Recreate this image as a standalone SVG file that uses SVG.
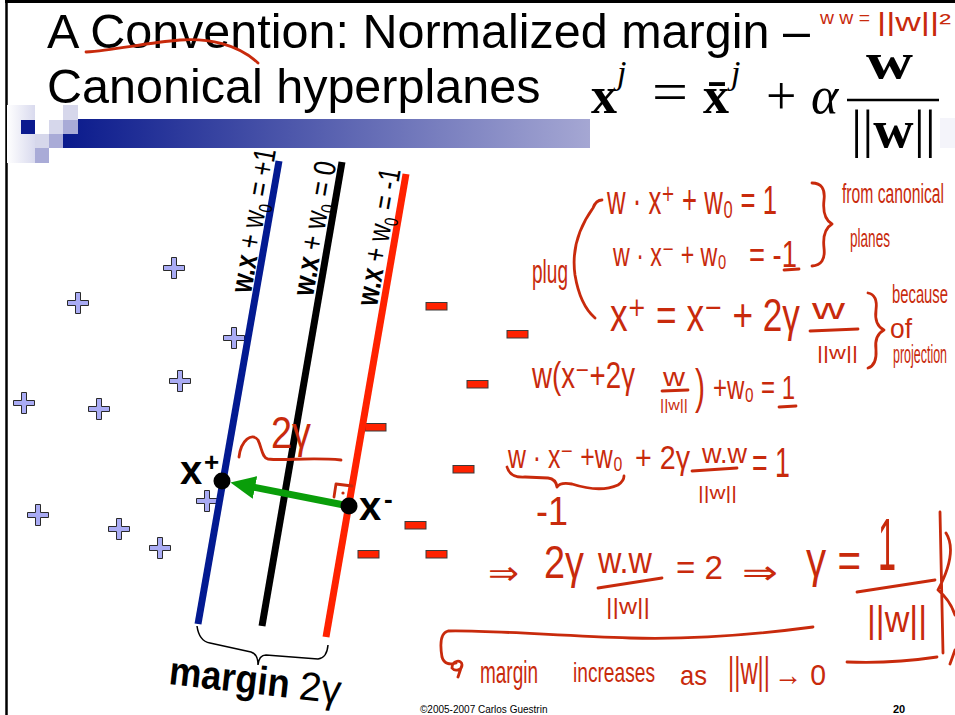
<svg xmlns="http://www.w3.org/2000/svg" width="955" height="715" viewBox="0 0 955 715">
<defs>
<style>
.t{font-family:"Liberation Sans",Arial,sans-serif;fill:#000}
.hw{font-family:"Liberation Sans","DejaVu Sans",Arial,sans-serif;fill:#c82a0c}
.hs{fill:none;stroke:#c82a0c;stroke-width:2.8;stroke-linecap:round;stroke-linejoin:round}
.mf{font-family:"Liberation Serif","Times New Roman",serif;fill:#000}
.lbl{font-family:"Liberation Sans",Arial,sans-serif;font-size:31px;fill:#000}
.plus{fill:#a9abf4;stroke:#2a2a2a;stroke-width:1}
.minus{fill:#ff2200;stroke:#3a3a3a;stroke-width:1}
</style>
<linearGradient id="bar" x1="0" x2="1" y1="0" y2="0"><stop offset="0" stop-color="#0a1a8c"/><stop offset="1" stop-color="#a5a7d3"/></linearGradient>
<linearGradient id="fade" x1="0" x2="1" y1="0" y2="0"><stop offset="0" stop-color="#ffffff"/><stop offset="1" stop-color="#d9daee"/></linearGradient>
<path id="pl" d="M-2.5,-10.5H2.5V-2.5H10.5V2.5H2.5V10.5H-2.5V2.5H-10.5V-2.5H-2.5Z"/>
<marker id="ah" markerUnits="userSpaceOnUse" markerWidth="26" markerHeight="24" refX="2" refY="11.5" orient="auto"><path d="M0,0L25,11.5L0,23Z" fill="#0a9e0a"/></marker>
</defs>
<rect width="955" height="715" fill="#fff"/>
<g id="frame" stroke="#000" fill="none">
<line x1="5" y1="1.5" x2="955" y2="1.5" stroke-width="3"/>
<line x1="6.5" y1="0" x2="6.5" y2="715" stroke-width="2.5"/>
</g>
<g id="title">
<text class="t" x="47" y="48" font-size="48.5">A Convention: Normalized margin –</text>
<text class="t" x="47" y="103" font-size="48.5">Canonical hyperplanes</text>
<path class="hs" d="M86,52 C115,50 145,43 180,40 C208,38 238,44 258,63"/>
</g>
<g id="decor">
<rect x="7" y="105" width="28" height="58" fill="url(#fade)"/>
<rect x="63" y="119" width="527" height="29" fill="url(#bar)"/>
<rect x="21" y="120" width="14" height="14" fill="#0b1a8f"/>
<rect x="35" y="134" width="14" height="14" fill="#d6d7eb"/>
<rect x="35" y="148" width="14" height="15" fill="#a9abd7"/>
<rect x="49" y="120" width="14" height="14" fill="#d6d7eb"/>
<rect x="49" y="134" width="14" height="14" fill="#a9abd7"/>
<rect x="63" y="105" width="15" height="15" fill="#d6d7eb"/>
<rect x="63" y="120" width="15" height="14" fill="#a9abd7"/>
<rect x="940" y="118" width="15" height="30" fill="#f4f4fa"/>
</g>
<g id="formula" class="mf">
<text x="591" y="113" font-size="52" font-weight="bold">x</text>
<text x="617" y="84" font-size="34" font-style="italic">j</text>
<text x="652" y="111" font-size="56" textLength="36" lengthAdjust="spacingAndGlyphs">=</text>
<text x="703" y="113" font-size="52" font-weight="bold">x̄</text>
<text x="731" y="84" font-size="34" font-style="italic">j</text>
<text x="766" y="114" font-size="54">+</text>
<text x="811" y="113" font-size="52" font-style="italic">α</text>
<text x="866" y="78" font-size="50" font-weight="bold" textLength="47" lengthAdjust="spacingAndGlyphs">w</text>
<line x1="847" y1="100" x2="939" y2="100" stroke="#000" stroke-width="2.4"/>
<text x="851" y="147" font-size="52" textLength="85" lengthAdjust="spacingAndGlyphs">||<tspan font-weight="bold">w</tspan>||</text>
</g>
<g id="positives">
<use href="#pl" class="plus" x="174" y="268"/>
<use href="#pl" class="plus" x="78" y="303"/>
<use href="#pl" class="plus" x="234" y="338"/>
<use href="#pl" class="plus" x="180" y="381"/>
<use href="#pl" class="plus" x="24" y="403"/>
<use href="#pl" class="plus" x="99" y="409"/>
<use href="#pl" class="plus" x="207" y="501"/>
<use href="#pl" class="plus" x="38" y="515"/>
<use href="#pl" class="plus" x="119" y="529"/>
<use href="#pl" class="plus" x="160" y="548"/>
</g>
<g id="negatives">
<rect class="minus" x="426" y="302.5" width="21" height="7.5"/>
<rect class="minus" x="507" y="330.5" width="21" height="7.5"/>
<rect class="minus" x="467" y="380.5" width="21" height="7.5"/>
<rect class="minus" x="365" y="423.5" width="21" height="7.5"/>
<rect class="minus" x="453" y="465.5" width="21" height="7.5"/>
<rect class="minus" x="405" y="521.5" width="21" height="7.5"/>
<rect class="minus" x="358" y="550.5" width="21" height="7.5"/>
<rect class="minus" x="426" y="550.5" width="21" height="7.5"/>
</g>
<g id="plane-pos">
<line x1="279" y1="161" x2="198" y2="624" stroke="#031a91" stroke-width="7"/>
<text class="lbl" transform="translate(251,294) rotate(-80.1)" textLength="146" lengthAdjust="spacingAndGlyphs"><tspan font-weight="bold">w.x</tspan> + w<tspan dy="6" font-size="19">0</tspan><tspan dy="-6"> = +1</tspan></text>
</g>
<g id="plane-zero">
<line x1="342" y1="162" x2="262" y2="626" stroke="#000" stroke-width="7"/>
<text class="lbl" transform="translate(313,297) rotate(-80.1)" textLength="136" lengthAdjust="spacingAndGlyphs"><tspan font-weight="bold">w.x</tspan> + w<tspan dy="6" font-size="19">0</tspan><tspan dy="-6"> = 0</tspan></text>
</g>
<g id="plane-neg">
<line x1="406" y1="174" x2="326" y2="637" stroke="#ff2200" stroke-width="7"/>
<text class="lbl" transform="translate(377,307) rotate(-80.1)" textLength="139" lengthAdjust="spacingAndGlyphs"><tspan font-weight="bold">w.x</tspan> + w<tspan dy="6" font-size="19">0</tspan><tspan dy="-6"> = -1</tspan></text>
</g>
<g id="connectors">
<line x1="349" y1="506" x2="253" y2="487" stroke="#0a9e0a" stroke-width="7" marker-end="url(#ah)"/>
<path d="M197,626 Q199,641 210,643 L251,652 Q258,654 258,665 Q259,655 266,655 L318,659 Q327,658 328,645" fill="none" stroke="#000" stroke-width="1.5"/>
</g>
<g id="xplus">
<circle cx="222" cy="481" r="8.5" fill="#000"/>
<text class="t" x="180" y="484" font-size="40" font-weight="bold">x</text>
<text class="t" x="204" y="471" font-size="26" font-weight="bold">+</text>
</g>
<g id="xminus">
<circle cx="349" cy="506" r="8.5" fill="#000"/>
<text class="t" x="359" y="520" font-size="40" font-weight="bold">x</text>
<text class="t" x="384" y="508" font-size="26" font-weight="bold">-</text>
</g>
<g id="margin-label">
<text class="t" transform="translate(168,684) rotate(6.5)" font-size="40" font-weight="bold" textLength="121" lengthAdjust="spacingAndGlyphs">margin</text>
<text class="t" transform="translate(298,699) rotate(6.5)" font-size="40" textLength="42" lengthAdjust="spacingAndGlyphs">2γ</text>
</g>
<g id="footer">
<text class="t" x="420" y="713" font-size="10">©2005-2007 Carlos Guestrin</text>
<text class="t" x="893" y="713" font-size="11" font-weight="bold">20</text>
</g>
<g id="handwriting">
<text class="hw" x="820" y="24" font-size="18" textLength="50" lengthAdjust="spacingAndGlyphs">w w =</text>
<text class="hw" x="877" y="31" font-size="25" textLength="74" lengthAdjust="spacingAndGlyphs">||w||²</text>
<path class="hs" d="M239,457 C241,440 252,432 258,440 C262,448 262,458 268,459 C285,461 310,457 341,460"/>
<text class="hw" x="271" y="448" font-size="44" textLength="40" lengthAdjust="spacingAndGlyphs">2γ</text>
<path class="hs" d="M334,497 L336,484 L352,486"/>
<circle cx="343" cy="493" r="1.6" fill="#c82a0c"/>
<text class="hw" x="607" y="214" font-size="40" textLength="170" lengthAdjust="spacingAndGlyphs">w · x⁺ + w₀ = 1</text>
<text class="hw" x="613" y="266" font-size="34" textLength="114" lengthAdjust="spacingAndGlyphs">w · x⁻ + w₀</text>
<text class="hw" x="749" y="267" font-size="36" textLength="48" lengthAdjust="spacingAndGlyphs">= -1</text>
<path class="hs" d="M784,270 L799,269"/>
<path class="hs" d="M812,183 Q826,183 824,200 Q822,218 832,224 Q822,230 824,248 Q826,265 812,266"/>
<text class="hw" x="842" y="203" font-size="27" textLength="102" lengthAdjust="spacingAndGlyphs">from canonical</text>
<text class="hw" x="850" y="247" font-size="26" textLength="40" lengthAdjust="spacingAndGlyphs">planes</text>
<text class="hw" x="532" y="283" font-size="33" textLength="36" lengthAdjust="spacingAndGlyphs">plug</text>
<path class="hs" d="M602,200 Q596,200 593,208 Q570,240 575,275 Q580,305 595,318"/>
<text class="hw" x="610" y="331" font-size="46" textLength="190" lengthAdjust="spacingAndGlyphs">x⁺ = x⁻ + 2γ</text>
<text class="hw" x="812" y="319" font-size="30" textLength="33" lengthAdjust="spacingAndGlyphs">w</text>
<path class="hs" d="M810,331 L858,329"/>
<text class="hw" x="817" y="359" font-size="19" textLength="41" lengthAdjust="spacingAndGlyphs">||w||</text>
<path class="hs" d="M868,293 Q878,295 876,310 Q874,325 884,330 Q874,335 876,350 Q877,365 868,368"/>
<text class="hw" x="892" y="303" font-size="26" textLength="56" lengthAdjust="spacingAndGlyphs">because</text>
<text class="hw" x="890" y="338" font-size="27" textLength="22" lengthAdjust="spacingAndGlyphs">of</text>
<text class="hw" x="893" y="363" font-size="25" textLength="54" lengthAdjust="spacingAndGlyphs">projection</text>
<text class="hw" x="532" y="388" font-size="36" textLength="103" lengthAdjust="spacingAndGlyphs">w(x⁻+2γ</text>
<text class="hw" x="663" y="386" font-size="26" textLength="22" lengthAdjust="spacingAndGlyphs">w</text>
<path class="hs" d="M662,391 L688,390"/>
<text class="hw" x="660" y="410" font-size="15" textLength="28" lengthAdjust="spacingAndGlyphs">||w||</text>
<text class="hw" x="695" y="403" font-size="48" textLength="10" lengthAdjust="spacingAndGlyphs">)</text>
<text class="hw" x="713" y="399" font-size="34" textLength="82" lengthAdjust="spacingAndGlyphs">+w₀ = 1</text>
<path class="hs" d="M779,407 L796,406"/>
<text class="hw" x="508" y="468" font-size="34" textLength="115" lengthAdjust="spacingAndGlyphs">w · x⁻ +w₀</text>
<text class="hw" x="635" y="469" font-size="34" textLength="55" lengthAdjust="spacingAndGlyphs">+ 2γ</text>
<text class="hw" x="702" y="463" font-size="27" textLength="45" lengthAdjust="spacingAndGlyphs">w.w</text>
<path class="hs" d="M692,471 L737,468"/>
<text class="hw" x="698" y="499" font-size="19" textLength="39" lengthAdjust="spacingAndGlyphs">||w||</text>
<text class="hw" x="752" y="477" font-size="42" textLength="38" lengthAdjust="spacingAndGlyphs">= 1</text>
<path class="hs" d="M507,467 Q510,478 525,477 L548,478 Q556,479 557,487 Q560,482 572,484 Q600,493 618,485 Q624,481 624,476"/>
<text class="hw" x="536" y="525" font-size="40" textLength="32" lengthAdjust="spacingAndGlyphs">-1</text>
<text class="hw" x="488" y="584" font-size="32" textLength="31" lengthAdjust="spacingAndGlyphs">⇒</text>
<text class="hw" x="544" y="578" font-size="46" textLength="40" lengthAdjust="spacingAndGlyphs">2γ</text>
<text class="hw" x="598" y="573" font-size="36" textLength="54" lengthAdjust="spacingAndGlyphs">w.w</text>
<path class="hs" d="M598,588 L662,578"/>
<text class="hw" x="606" y="614" font-size="22" textLength="44" lengthAdjust="spacingAndGlyphs">||w||</text>
<text class="hw" x="676" y="579" font-size="34" textLength="47" lengthAdjust="spacingAndGlyphs">= 2</text>
<text class="hw" x="742" y="584" font-size="34" textLength="36" lengthAdjust="spacingAndGlyphs">⇒</text>
<text class="hw" x="806" y="577" font-size="50" textLength="55" lengthAdjust="spacingAndGlyphs">γ =</text>
<text class="hw" x="878" y="570" font-size="74" textLength="18" lengthAdjust="spacingAndGlyphs">1</text>
<path class="hs" d="M857,592 L935,580"/>
<text class="hw" x="867" y="632" font-size="36" textLength="60" lengthAdjust="spacingAndGlyphs">||w||</text>
<path class="hs" d="M940,512 L943,653 M946,533 Q958,552 938,590 Q950,600 955,615 M950,664 L955,650"/>
<path class="hs" d="M813,627 C760,634 700,640 630,638 C560,636 490,630 448,631 C440,633 440,645 442,657 C444,664 450,665 456,663 M452,668 C452,660 462,659 462,665 C462,670 455,672 452,668 M462,665 L458,677"/>
<text class="hw" x="480" y="683" font-size="32" textLength="58" lengthAdjust="spacingAndGlyphs">margin</text>
<text class="hw" x="573" y="682" font-size="28" textLength="82" lengthAdjust="spacingAndGlyphs">increases</text>
<text class="hw" x="680" y="685" font-size="28" textLength="27" lengthAdjust="spacingAndGlyphs">as</text>
<text class="hw" x="728" y="684" font-size="38" textLength="42" lengthAdjust="spacingAndGlyphs">||w||</text>
<text class="hw" x="774" y="685" font-size="30" textLength="52" lengthAdjust="spacingAndGlyphs">→ 0</text>
<path class="hs" d="M847,662 Q890,664 937,657"/>
</g>
</svg>
